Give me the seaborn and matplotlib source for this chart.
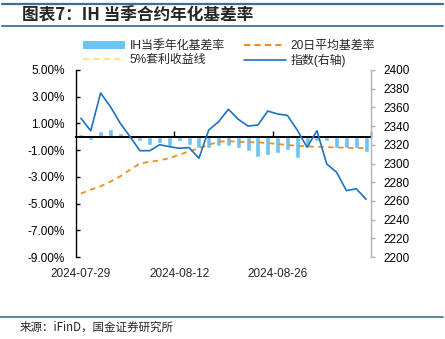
import numpy as np
import pandas as pd
import matplotlib
matplotlib.use("Agg")
import matplotlib.pyplot as plt
import matplotlib.transforms as mtransforms
from matplotlib.lines import Line2D
from matplotlib.patches import Patch
import seaborn as sns

# ---------------- data ----------------
dates = pd.bdate_range("2024-07-29", "2024-09-06")
date_labels = [d.strftime("%Y-%m-%d") for d in dates]

basis_rate = [0.20, -0.22, 0.45, 0.55, 0.30, -0.15, -0.28, -0.62, -0.45, -0.72,
              -0.30, -0.62, -0.85, -0.82, -0.68, -0.70, -0.87, -1.07, -1.52, -1.34,
              -1.22, -0.97, -1.62, -0.72, -0.30, -0.35, -0.87, -0.82, -0.82, -1.14]

avg20_rate = [-4.25, -3.96, -3.70, -3.36, -2.96, -2.46, -2.00, -1.87, -1.77, -1.60,
              -1.34, -1.10, -0.85, -0.60, -0.37, -0.33, -0.37, -0.40, -0.42, -0.47,
              -0.54, -0.62, -0.67, -0.72, -0.75, -0.77, -0.80, -0.82, -0.85, -0.85]

index_value = [2348.3, 2335.0, 2375.4, 2360.8, 2343.0, 2328.7, 2313.7, 2313.7, 2320.1, 2318.0,
               2316.3, 2317.0, 2305.6, 2335.8, 2344.7, 2358.0, 2347.3, 2340.0, 2341.2, 2356.1,
               2353.0, 2351.5, 2335.8, 2317.3, 2335.0, 2299.5, 2290.6, 2271.0, 2273.0, 2261.7]

arb_line = [np.nan] * len(dates)  # 5% arbitrage line: off the visible range

left_ticks = [5, 3, 1, -1, -3, -5, -7, -9]
right_ticks = list(range(2200, 2401, 20))
xtick_labels = ["2024-07-29", "2024-08-12", "2024-08-26"]

df = pd.DataFrame({"pos": np.arange(len(dates)), "date": date_labels,
                   "basis": basis_rate, "avg20": avg20_rate,
                   "index": index_value, "arb": arb_line})

# ---------------- style ----------------
sns.set_theme(style="white")
plt.rcParams["font.family"] = ["Liberation Sans", "Noto Sans CJK SC", "DejaVu Sans"]
plt.rcParams["axes.unicode_minus"] = False

BAR_C = "#6cc4f5"
IDX_C = "#1b72c2"
AVG_C = "#f08c23"
ARB_C = "#ffe28c"
FRAME_C = "#3e6f8f"

fig = plt.figure(figsize=(4.45, 3.39), dpi=100)
ax = fig.add_axes([76/445, 1-257/339, (371-76)/445, (257-70)/339])

sns.barplot(data=df, x="pos", y="basis", color=BAR_C, width=0.5,
            saturation=1, ax=ax, zorder=2)
sns.lineplot(data=df, x="pos", y="avg20", color=AVG_C, lw=1.3,
             dashes=False, ax=ax, zorder=3, linestyle=(0, (3, 2.5)))
sns.lineplot(data=df, x="pos", y="arb", color=ARB_C, lw=1.3, ax=ax, zorder=3)

ax.set_xlim(-0.5, len(dates) - 0.5)
ax.set_ylim(-9, 5)
ax.set_yticks(left_ticks)
ax.set_yticklabels([f"{v:.2f}%" for v in left_ticks], fontsize=8.5)
ax.set_xlabel("")
ax.set_ylabel("")
ax.spines["top"].set_visible(False)
ax.spines["right"].set_visible(False)
ax.spines["left"].set_color("black")
ax.spines["left"].set_linewidth(1.0)
ax.spines["bottom"].set_position(("data", 0))
ax.spines["bottom"].set_color("black")
ax.spines["bottom"].set_linewidth(1.4)
ax.spines["bottom"].set_zorder(4)
ax.tick_params(axis="y", direction="in", length=3, width=1, color="black",
               pad=8, labelcolor="black", left=True)
ax.set_xticks([9.5, 19.5, 29.5])
ax.set_xticklabels([])
ax.tick_params(axis="x", direction="in", length=4, width=1, color="black",
               bottom=True)
ax.grid(False)

trans = mtransforms.blended_transform_factory(ax.transData, ax.transAxes)
for lab in xtick_labels:
    i = date_labels.index(lab)
    ax.text(i, -0.06, lab, transform=trans, ha="center", va="top", fontsize=8.5)

ax2 = ax.twinx()
sns.lineplot(data=df, x="pos", y="index", color=IDX_C, lw=1.2, ax=ax2, zorder=5)
ax2.set_ylim(2200, 2400)
ax2.set_yticks(right_ticks)
ax2.set_yticklabels([str(v) for v in right_ticks], fontsize=8.5)
ax2.set_ylabel("")
ax2.set_xlabel("")
for s in ["top", "left", "bottom"]:
    ax2.spines[s].set_visible(False)
ax2.spines["right"].set_color("#b0b0b0")
ax2.spines["right"].set_linewidth(1.0)
ax2.tick_params(axis="y", direction="out", length=3, width=1, color="#b0b0b0",
                pad=6, labelcolor="black", right=True)
ax2.grid(False)
ax2.set_xlim(-0.5, len(dates) - 0.5)

# legend
handles = [Patch(facecolor=BAR_C, edgecolor="none"),
           Line2D([], [], color=ARB_C, lw=1.5, linestyle=(0, (3, 2))),
           Line2D([], [], color=AVG_C, lw=1.5, linestyle=(0, (3, 2))),
           Line2D([], [], color=IDX_C, lw=1.2)]
labels = ["IH当季年化基差率", "5%套利收益线", "20日平均基差率", "指数(右轴)"]
fig.legend(handles, labels, ncol=2, loc="upper left",
           bbox_to_anchor=(76/445, 1 - 33/339), frameon=False, fontsize=8.6,
           handlelength=3.5, handleheight=0.6, handletextpad=0.4,
           columnspacing=1.6, labelspacing=0.15, borderpad=0.1)

# title and frame lines
fig.add_artist(Line2D([0.005, 0.995], [1 - 3.5/339, 1 - 3.5/339],
                      color=FRAME_C, lw=1.6, transform=fig.transFigure))
fig.add_artist(Line2D([0.005, 0.995], [1 - 26/339, 1 - 26/339],
                      color=FRAME_C, lw=1.3, transform=fig.transFigure))
fig.text(22/445, 1 - 15/339, "图表7：IH 当季合约年化基差率", ha="left",
         va="center", fontsize=12, fontweight="bold", style="italic",
         family=["Noto Sans CJK SC", "DejaVu Sans"])
fig.add_artist(Line2D([0.0, 0.995], [1 - 317/339, 1 - 317/339],
                      color=FRAME_C, lw=1.2, transform=fig.transFigure))
fig.text(20/445, 1 - 327/339, "来源：iFinD，国金证券研究所", ha="left",
         va="center", fontsize=8.3, family=["Noto Sans CJK SC", "DejaVu Sans"])

fig.savefig("out.png", dpi=100)
